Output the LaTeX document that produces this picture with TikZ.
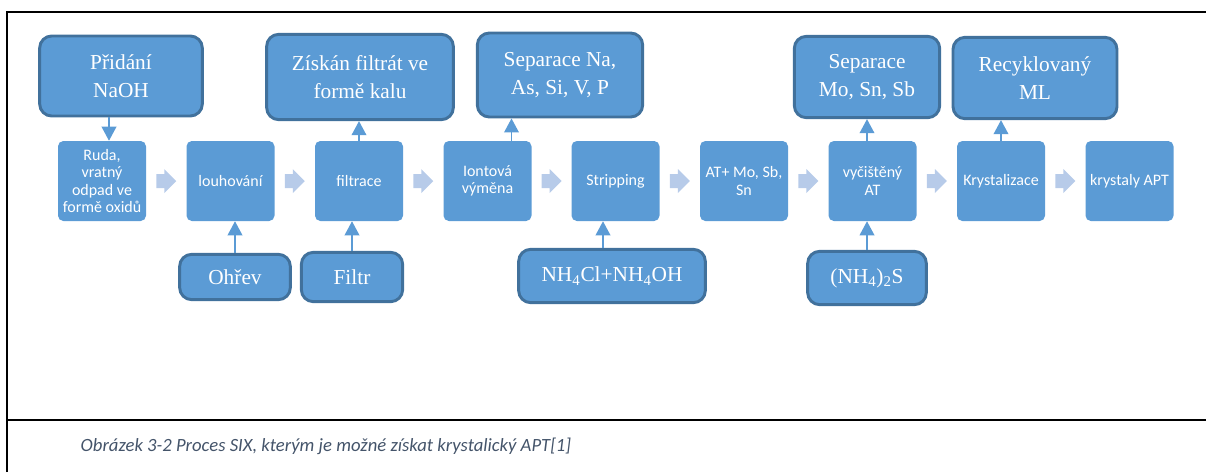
\documentclass[tikz,border=0pt]{standalone}
\usepackage{fontspec}
\setmainfont{Liberation Serif}
\newfontfamily\calibri{Carlito}
\usetikzlibrary{arrows.meta,calc}

\definecolor{boxblue}{RGB}{91,155,213}
\definecolor{edgeblue}{RGB}{65,113,156}
\definecolor{chevron}{RGB}{183,203,233}
\definecolor{captiongray}{RGB}{68,84,106}

\tikzset{
  outer/.style={rectangle, rounded corners=9pt, draw=edgeblue, line width=2.2pt, fill=boxblue, text=white, align=center, font=\fontsize{16}{21}\selectfont, inner sep=0pt},
  stage/.style={rectangle, rounded corners=4pt, fill=boxblue, text=white, align=center, minimum width=66pt, minimum height=60pt, inner sep=0pt, font=\calibri\fontsize{12}{13}\selectfont},
  link/.style={draw=boxblue, line width=1.1pt, -{Triangle[width=11pt,length=10.5pt]}},
}

\begin{document}
\begin{tikzpicture}[x=0.75pt,y=-0.75pt]
\useasboundingbox (0,0) rectangle (1206,472);

% frame
\draw[line width=2pt] (7,472) -- (7,12) -- (1206,12);
\draw[line width=2pt] (7,420) -- (1206,420);

% main line of stages
\node[stage] (ruda) at (102,181) {Ruda,\\ vratný\\ odpad ve\\ formě oxidů};
\node[stage] (louh) at (230.5,181) {louhování};
\node[stage] (filt) at (359,181) {filtrace};
\node[stage] (iont) at (487.5,181) {Iontová\\ výměna};
\node[stage] (strip) at (615.5,181) {Stripping};
\node[stage] (atmo) at (744,181) {AT+ Mo, Sb,\\ Sn};
\node[stage] (vyc) at (872.5,181) {vyčištěný\\ AT};
\node[stage] (kryst) at (1001,181) {Krystalizace};
\node[stage] (apt) at (1129.5,181) {krystaly APT};

% inputs and outputs
\node[outer, minimum width=122pt, minimum height=60pt] (naoh) at (121,76) {Přidání\\ NaOH};
\node[outer, minimum width=140pt, minimum height=64pt] (kal) at (360,77) {Získán filtrát ve\\ formě kalu};
\node[outer, minimum width=124pt, minimum height=63pt] (sepna) at (560,75) {Separace Na,\\ As, Si, V, P};
\node[outer, minimum width=109pt, minimum height=61pt] (sepmo) at (867,77) {Separace\\ Mo, Sn, Sb};
\node[outer, minimum width=123pt, minimum height=61pt] (ml) at (1035,78) {Recyklovaný\\ ML};

\node[outer, minimum width=83pt, minimum height=34pt] (ohrev) at (235,277) {Ohřev};
\node[outer, minimum width=76pt, minimum height=37pt] (filtr) at (352,277) {Filtr};
\node[outer, minimum width=140pt, minimum height=40pt] (nh4) at (612,276) {NH\textsubscript{4}Cl+NH\textsubscript{4}OH};
\node[outer, minimum width=89pt, minimum height=40pt] (sulfid) at (867,278) {(NH\textsubscript{4})\textsubscript{2}S};

% block arrows between stages
\foreach \a/\b in {ruda/louh, louh/filt, filt/iont, iont/strip, strip/atmo, atmo/vyc, vyc/kryst, kryst/apt}
  \fill[chevron] ($(\a.east)!.5!(\b.west)$) ++(-10,-7) -- ++(8,0) -- ++(0,-5) -- ++(12,12) -- ++(-12,12) -- ++(0,-5) -- ++(-8,0) -- cycle;

% connectors
\coordinate (s1) at ($(ruda.north)+(7,0)$);
\coordinate (s3) at ($(iont.north)+(24,0)$);
\coordinate (s8) at ($(nh4.north)+(-9,0)$);
\draw[link] (s1 |- naoh.south) -- (s1);
\draw[link] (filt.north) -- (filt.north |- kal.south);
\draw[link] (s3) -- (s3 |- sepna.south);
\draw[link] (sepmo.south |- vyc.north) -- (sepmo.south);
\draw[link] (kryst.north) -- (kryst.north |- ml.south);
\draw[link] (ohrev.north) -- (ohrev.north |- louh.south);
\draw[link] (filtr.north) -- (filtr.north |- filt.south);
\draw[link] (s8) -- (s8 |- strip.south);
\draw[link] (sulfid.north) -- (sulfid.north |- vyc.south);

% caption
\node[anchor=west, text=captiongray, font=\calibri\itshape\fontsize{14}{16}\selectfont] (cap) at (76,446) {Obrázek 3-2 Proces SIX, kterým je možné získat krystalický APT[1]};
\end{tikzpicture}
\end{document}
